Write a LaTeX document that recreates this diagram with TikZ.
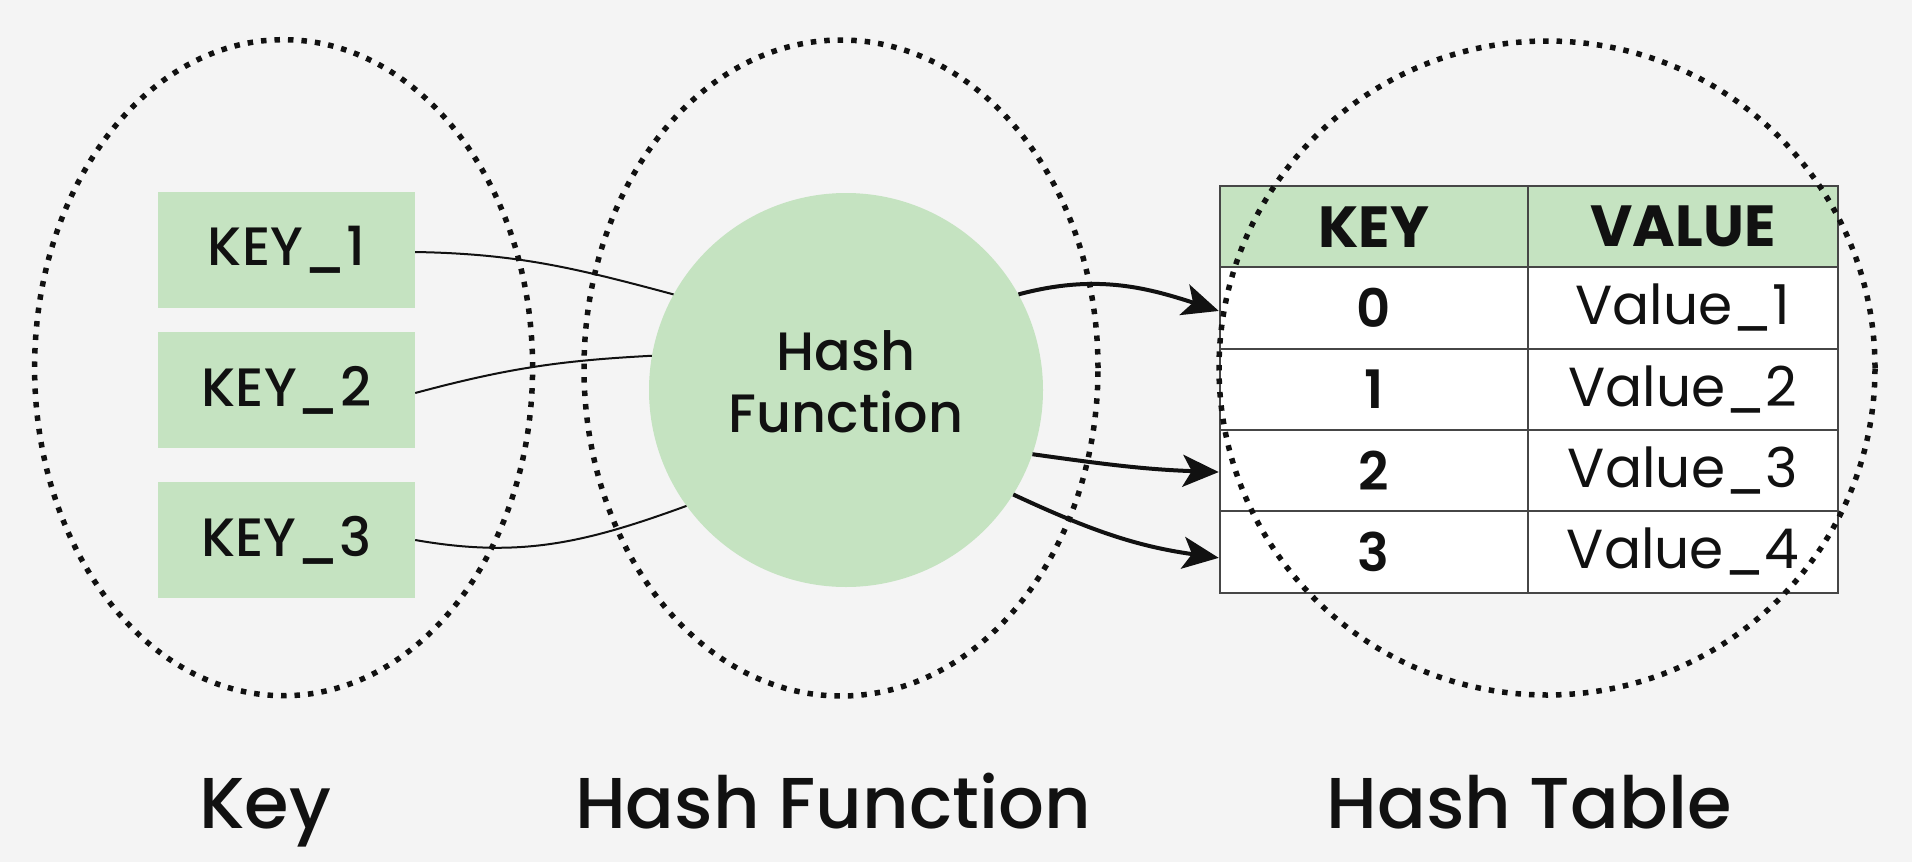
\documentclass[tikz,border=0pt]{standalone}
\usepackage{fontspec}
\setmainfont{Poppins}
\newfontfamily\popmed{Poppins Medium}
\newfontfamily\popsemi{Poppins SemiBold}
\usetikzlibrary{shapes.geometric,arrows.meta}
\definecolor{bg}{RGB}{244,244,244}
\definecolor{leaf}{RGB}{197,227,193}
\definecolor{ink}{RGB}{17,17,17}
\definecolor{rulec}{RGB}{70,70,70}
\begin{document}
\begin{tikzpicture}[x=1pt,y=1pt,
  keybox/.style={rectangle, fill=leaf, minimum width=257pt, minimum height=116pt, inner sep=0pt, text=ink, font=\popmed\fontsize{54}{60}\selectfont},
  hashnode/.style={circle, fill=leaf, minimum size=394pt, inner sep=0pt},
  hashtext/.style={text=ink, align=center, inner sep=0pt, font=\popmed\fontsize{54}{66}\selectfont},
  setring/.style={ellipse, draw=ink, line width=5.5pt, dash pattern=on 5.5pt off 8pt, inner sep=0pt, outer sep=0pt},
  cellbase/.style={rectangle, draw=rulec, line width=2pt, minimum height=81.3pt, inner sep=0pt, text=ink},
  kcell/.style={cellbase, minimum width=308pt, fill=white, font=\popsemi\fontsize{53}{60}\selectfont},
  vcell/.style={cellbase, minimum width=310pt, fill=white, font=\fontsize{55}{60}\selectfont},
  hkcell/.style={cellbase, minimum width=308pt, fill=leaf, font=\fontsize{58}{64}\selectfont\bfseries},
  hvcell/.style={cellbase, minimum width=310pt, fill=leaf, font=\fontsize{58}{64}\selectfont\bfseries},
  thinlink/.style={draw=ink, line width=2pt},
  boldlink/.style={draw=ink, line width=4pt, -{Stealth[length=36pt,width=32pt,inset=9pt]}},
  caption/.style={anchor=base, text=ink, font=\popmed\fontsize{72}{80}\selectfont}
]
\fill[bg] (0,0) rectangle (1912,-862);
\useasboundingbox (0,0) rectangle (1912,-862);

% key boxes
\node[keybox] (k1) at (286.5,-250) {KEY\_1};
\node[keybox] (k2) at (286.5,-390) {KEY\_2};
\node[keybox] (k3) at (286.5,-540) {KEY\_3};

% hash function
\node[hashnode] (hf) at (846,-390) {};
\node[hashtext] (hft) at (846,-382) {Hash\\[-4pt]Function};

% table
\node[hkcell] (hk) at (1373.75,-226.65) {KEY};
\node[hvcell] (hv) at (1682.9,-226.65) {VALUE};
\node[kcell] (r0k) at (1373.75,-307.95) {0};
\node[vcell] (r0v) at (1682.9,-307.95) {Value\_1};
\node[kcell] (r1k) at (1373.75,-389.25) {1};
\node[vcell] (r1v) at (1682.9,-389.25) {Value\_2};
\node[kcell] (r2k) at (1373.75,-470.55) {2};
\node[vcell] (r2v) at (1682.9,-470.55) {Value\_3};
\node[kcell] (r3k) at (1373.75,-551.85) {3};
\node[vcell] (r3v) at (1682.9,-551.85) {Value\_4};

% links keys -> hash
\draw[thinlink] (k1.east) ++(0,-2) coordinate (k1o) to[out=-1,in=165] (hf.151);
\draw[thinlink] (k2.east) ++(0,-3) coordinate (k2o) to[out=15,in=183] (hf.170);
\draw[thinlink] (k3.east) to[out=-10,in=200] (hf.216);

% arrows hash -> table
\draw[boldlink] (hf.29) to[out=15,in=162] ([yshift=-3pt]r0k.west);
\draw[boldlink] (hf.-19) to[out=-8,in=178] ([yshift=-1.5pt]r2k.west);
\draw[boldlink] (hf.-32) to[out=-25,in=172] ([yshift=-6pt]r3k.west);

% dotted groups
\node[setring, minimum width=498pt, minimum height=656pt] (gkey) at (283.6,-367.7) {};
\node[setring, minimum width=514pt, minimum height=656pt] (ghash) at (841,-368) {};
\node[setring, minimum width=656pt, minimum height=654pt] (gtable) at (1547,-368) {};

% captions
\node[caption] (ckey) at (265,-828) {Key};
\node[caption] (chash) at (833,-828) {Hash Function};
\node[caption] (ctable) at (1529,-828) {Hash Table};
\end{tikzpicture}
\end{document}
